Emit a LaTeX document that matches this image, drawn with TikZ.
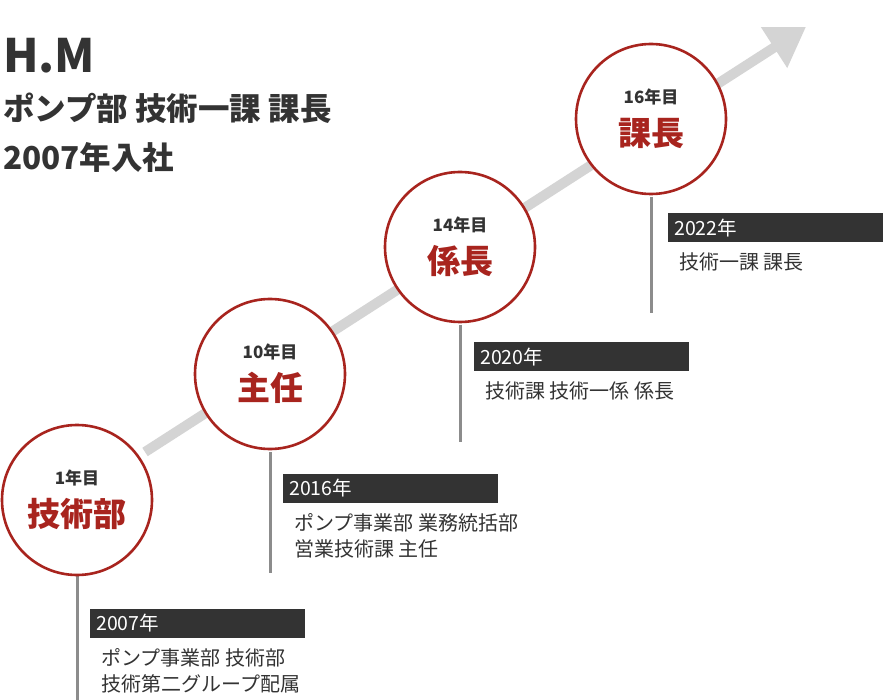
\documentclass[tikz,border=0pt]{standalone}
\usepackage{fontspec}
\setmainfont{Noto Sans CJK JP}
\definecolor{cred}{HTML}{A8241E}
\definecolor{dk}{HTML}{333333}
\definecolor{arr}{HTML}{D4D4D4}
\usetikzlibrary{arrows.meta}
\begin{document}
\begin{tikzpicture}[x=1pt,y=-1pt,
  stage/.style={circle,draw=cred,line width=2.6pt,fill=white,minimum size=150pt,inner sep=0pt},
  yr/.style={fill=dk,text=white,anchor=west,minimum width=215pt,minimum height=29pt,inner sep=0pt,text width=203pt,align=left,font=\fontsize{19.5}{22}\selectfont},
  desc/.style={anchor=north west,align=left,inner sep=0pt,font=\fontsize{20}{26}\selectfont,text=dk},
  vline/.style={draw=gray!90,line width=3pt},
  ttl/.style={anchor=west,inner sep=0pt,font=\bfseries\fontsize{31.5}{34}\selectfont,text=dk}]
\useasboundingbox (0,0) rectangle (886,700);
\coordinate (as) at (145,452);
\coordinate (ae) at (806,27);
\draw[arr,line width=10pt,-{Triangle[length=38pt,width=46pt]}] (as) -- (ae);
\node[ttl,font=\bfseries\fontsize{46}{48}\selectfont] (t1) at (3,56) {H.M};
\node[ttl] (t2) at (3,108) {ポンプ部 技術一課 課長};
\node[ttl] (t3) at (3,157) {2007年入社};
\foreach \n/\x/\ya/\yb/\bx/\by/\yr/\da in {
 a/77/576/700/90/623/2007年/{ポンプ事業部 技術部\\技術第二グループ配属},
 b/270/452/573/283/488/2016年/{ポンプ事業部 業務統括部\\営業技術課 主任},
 c/460/325/442/474/357/2020年/{技術課 技術一係 係長},
 d/651/197/313/668/228/2022年/{技術一課 課長}}{
  \draw[vline] (\x,\ya) coordinate (\n top) -- (\x,\yb) coordinate (\n bot);
  \node[yr] (\n yr) at (\bx,\by) {\yr};
  \node[desc] (\n d) at (\bx+11,\by+25) {\da};
}
\node[stage] (sa) at (77,500) {};
\node[stage] (sb) at (270,374) {};
\node[stage] (sc) at (460,247) {};
\node[stage] (sd) at (651,119) {};
\foreach \n/\k/\t in {sa/1年目/技術部, sb/10年目/主任, sc/14年目/係長, sd/16年目/課長}{
  \node[font=\bfseries\fontsize{17}{18}\selectfont,text=dk] at ([yshift=22pt]\n.center) {\k};
  \node[font=\bfseries\fontsize{33}{34}\selectfont,text=cred] at ([yshift=-14pt]\n.center) {\t};
}
\end{tikzpicture}
\end{document}
